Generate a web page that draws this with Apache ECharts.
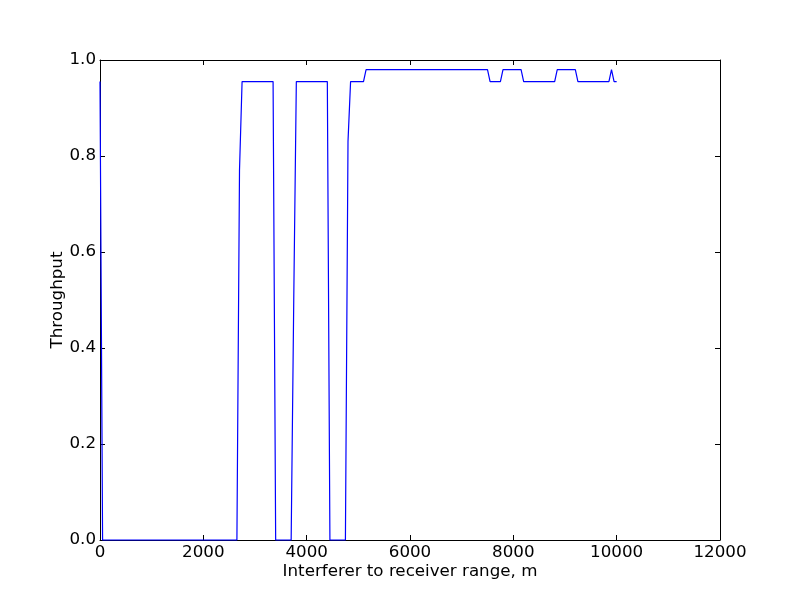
<!DOCTYPE html>
<html>
<head>
<meta charset="utf-8">
<script src="https://cdn.jsdelivr.net/npm/echarts@6/dist/echarts.min.js"></script>
<style>html,body{margin:0;padding:0;background:#fff}#c{width:800px;height:600px}</style>
</head>
<body>
<div id="c"></div>
<script>
const rangeM = [0, 50, 2650, 2700, 2750, 3350, 3400, 3700, 3750, 3800, 4400, 4450, 4750, 4800, 4850, 5100, 5150, 7500, 7550, 7750, 7800, 8150, 8200, 8800, 8850, 9200, 9250, 9850, 9900, 9950, 10000];
const throughput = [0.955, 0, 0, 0.77, 0.955, 0.955, 0, 0, 0.5, 0.955, 0.955, 0, 0, 0.83, 0.955, 0.955, 0.98, 0.98, 0.955, 0.955, 0.98, 0.98, 0.955, 0.955, 0.98, 0.98, 0.955, 0.955, 0.98, 0.955, 0.955];
const xTicks = [0, 2000, 4000, 6000, 8000, 10000, 12000];
const yTicks = [0.0, 0.2, 0.4, 0.6, 0.8, 1.0];

const font = 'DejaVu Sans';
const chart = echarts.init(document.getElementById('c'), null, {renderer: 'canvas'});
const axisLine = {show: true, onZero: false, lineStyle: {color: '#000', width: 1}};
const tick = {show: true, inside: true, length: 5, lineStyle: {color: '#000', width: 1}};
chart.setOption({
  animation: false,
  backgroundColor: '#fff',
  grid: {left: 100, right: 80, top: 60, bottom: 60, containLabel: false},
  xAxis: [{
    type: 'value', min: xTicks[0], max: xTicks[xTicks.length - 1], interval: 2000,
    position: 'bottom',
    name: 'Interferer to receiver range, m', nameLocation: 'middle', nameGap: 23,
    nameMoveOverlap: false,
    nameTextStyle: {fontFamily: font, fontSize: 16.7, color: '#000', verticalAlign: 'top'},
    axisLine: axisLine, axisTick: tick, splitLine: {show: false},
    axisLabel: {fontFamily: font, fontSize: 16.7, color: '#000', margin: 4,
      formatter: v => String(v)}
  }, {
    type: 'value', min: xTicks[0], max: xTicks[xTicks.length - 1], interval: 2000,
    position: 'top', axisLine: axisLine, axisTick: tick, splitLine: {show: false},
    axisLabel: {show: false}
  }],
  yAxis: [{
    type: 'value', min: yTicks[0], max: yTicks[yTicks.length - 1], interval: 0.2,
    position: 'left',
    name: 'Throughput', nameLocation: 'middle', nameGap: 34, nameRotate: 90,
    nameMoveOverlap: false,
    nameTextStyle: {fontFamily: font, fontSize: 16.7, color: '#000'},
    axisLine: axisLine, axisTick: tick, splitLine: {show: false},
    axisLabel: {fontFamily: font, fontSize: 16.7, color: '#000', margin: 4,
      formatter: v => v.toFixed(1)}
  }, {
    type: 'value', min: yTicks[0], max: yTicks[yTicks.length - 1], interval: 0.2,
    position: 'right', axisLine: axisLine, axisTick: tick, splitLine: {show: false},
    axisLabel: {show: false}
  }],
  series: [{
    type: 'line',
    data: rangeM.map((x, i) => [x, throughput[i]]),
    showSymbol: false, symbol: 'none',
    lineStyle: {color: '#0000ff', width: 1.2},
    clip: false
  }]
});
</script>
</body>
</html>
